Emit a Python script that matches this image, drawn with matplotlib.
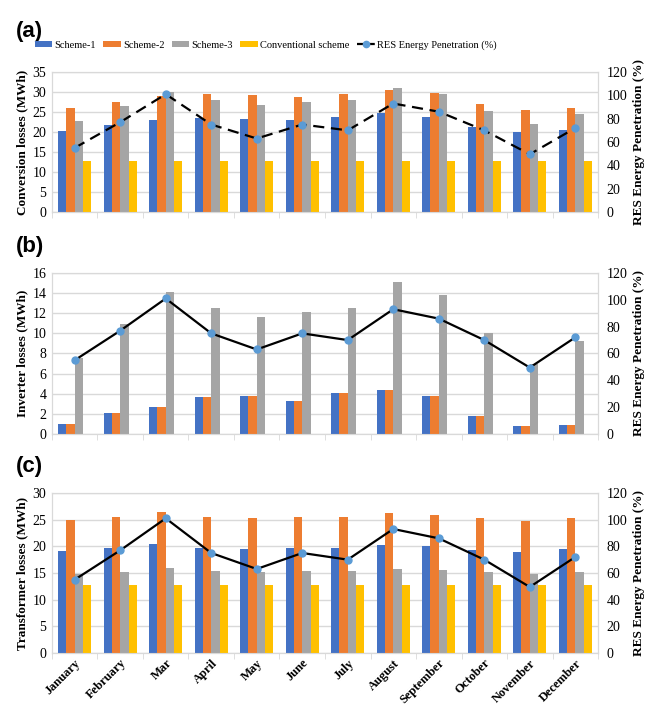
import numpy as np
import matplotlib
matplotlib.use("Agg")
import matplotlib.pyplot as plt
from matplotlib.lines import Line2D
from matplotlib.patches import Patch

# ------------------------------------------------------------
# Data
# ------------------------------------------------------------
months = ["January", "February", "Mar", "April", "May", "June",
          "July", "August", "September", "October", "November", "December"]

res_pen = [55, 77, 101, 75, 63, 75, 70, 93, 86, 70, 49.5, 72]

# (a) conversion losses (MWh)
conv_s1 = [20.2, 21.7, 23.1, 23.4, 23.3, 23.0, 23.8, 24.8, 23.8, 21.2, 19.9, 20.4]
conv_s2 = [25.9, 27.5, 29.1, 29.4, 29.2, 28.7, 29.6, 30.6, 29.7, 27.1, 25.6, 26.1]
conv_s3 = [22.7, 26.4, 30.1, 28.0, 26.8, 27.5, 27.9, 30.9, 29.5, 25.3, 21.9, 24.4]
conv_cv = [12.8] * 12

# (b) inverter losses (MWh)
inv_s1 = [1.0, 2.1, 2.7, 3.7, 3.8, 3.3, 4.1, 4.4, 3.8, 1.8, 0.8, 0.85]
inv_s2 = [1.0, 2.1, 2.7, 3.7, 3.8, 3.3, 4.1, 4.4, 3.8, 1.8, 0.8, 0.85]
inv_s3 = [7.6, 10.9, 14.1, 12.5, 11.6, 12.1, 12.5, 15.1, 13.8, 10.0, 7.0, 9.2]
inv_cv = [0] * 12

# (c) transformer losses (MWh)
tr_s1 = [19.1, 19.7, 20.5, 19.7, 19.5, 19.7, 19.7, 20.3, 20.0, 19.4, 19.0, 19.5]
tr_s2 = [24.9, 25.5, 26.4, 25.5, 25.3, 25.5, 25.5, 26.3, 25.9, 25.3, 24.8, 25.4]
tr_s3 = [14.8, 15.2, 15.9, 15.4, 15.2, 15.4, 15.4, 15.7, 15.6, 15.2, 14.8, 15.2]
tr_cv = [12.8] * 12

series_names = ["Scheme-1", "Scheme-2", "Scheme-3", "Conventional scheme"]
colors = ["#4472C4", "#ED7D31", "#A5A5A5", "#FFC000"]
dot_color = "#5B9BD5"
grid_col = "#D9D9D9"

plt.rcParams["font.family"] = ["Liberation Serif", "DejaVu Serif"]

fig = plt.figure(figsize=(6.53, 7.06), dpi=100)

# tag, series, y label, y max, y step, line style, axes box, tag y
panels = [
    ("(a)", [conv_s1, conv_s2, conv_s3, conv_cv], "Conversion losses (MWh)", 35, 5, "--",
     [0.0796, 0.6997, 0.8362, 0.1983], 0.955),
    ("(b)", [inv_s1, inv_s2, inv_s3, inv_cv], "Inverter losses (MWh)", 16, 2, "-",
     [0.0796, 0.3853, 0.8362, 0.2280], 0.651),
    ("(c)", [tr_s1, tr_s2, tr_s3, tr_cv], "Transformer losses (MWh)", 30, 5, "-",
     [0.0796, 0.0751, 0.8362, 0.2266], 0.339),
]

x = np.arange(len(months))
bw = 0.183

for i, (tag, data, ylabel, ymax, ystep, ls, pos, tag_y) in enumerate(panels):
    ax = fig.add_axes(pos)
    for k, vals in enumerate(data):
        ax.bar(x + (k - 1.5) * bw, vals, width=bw, color=colors[k], zorder=3)
    ax.set_xlim(-0.5, len(months) - 0.5)
    ax.set_ylim(0, ymax)
    ax.set_yticks(np.arange(0, ymax + 0.1, ystep))
    ax.grid(axis="y", color=grid_col, linewidth=1, zorder=0)
    ax.tick_params(axis="y", length=0, labelsize=10, pad=4)
    ax.set_ylabel(ylabel, fontsize=9.5, fontweight="bold", labelpad=3)
    for sp in ax.spines.values():
        sp.set_color(grid_col)
    # small ticks on the category boundaries
    ax.set_xticks(np.arange(-0.5, len(months)), minor=True)
    ax.tick_params(axis="x", which="minor", length=4, color=grid_col)
    ax.set_xticks(x)
    if i == 2:
        ax.set_xticklabels(months, rotation=45, ha="right", rotation_mode="anchor",
                           fontsize=9, fontweight="bold")
        ax.tick_params(axis="x", which="major", length=0, pad=3)
    else:
        ax.set_xticklabels([])
        ax.tick_params(axis="x", which="major", length=0)

    ax2 = ax.twinx()
    ax2.plot(x, res_pen, color="black", linestyle=ls, linewidth=1.6,
             dashes=(5, 3) if ls == "--" else (None, None), zorder=4)
    ax2.plot(x, res_pen, linestyle="none", marker="o", markersize=5,
             color=dot_color, zorder=5)
    ax2.set_ylim(0, 120)
    ax2.set_yticks(np.arange(0, 121, 20))
    ax2.tick_params(axis="y", length=0, labelsize=10, pad=6)
    ax2.set_ylabel("RES Energy Penetration (%)", fontsize=9.5, fontweight="bold", labelpad=4)
    for sp in ax2.spines.values():
        sp.set_color(grid_col)

    fig.text(0.025, tag_y, tag, fontsize=16, fontweight="bold",
             family="Liberation Sans", va="center")

# legend
handles = [Patch(facecolor=c, edgecolor="none") for c in colors]
handles.append(Line2D([0], [0], color="black", linestyle="--", dashes=(3, 2), linewidth=1.6,
                      marker="o", markersize=4.5, markerfacecolor=dot_color,
                      markeredgecolor=dot_color))
fig.legend(handles, series_names + ["RES Energy Penetration (%)"],
           loc="center left", bbox_to_anchor=(0.053, 0.936), ncol=5, frameon=False,
           fontsize=7.5, handlelength=1.7, handleheight=0.6, handletextpad=0.2,
           columnspacing=0.7, borderaxespad=0, borderpad=0)

fig.savefig("out.png", dpi=100)
